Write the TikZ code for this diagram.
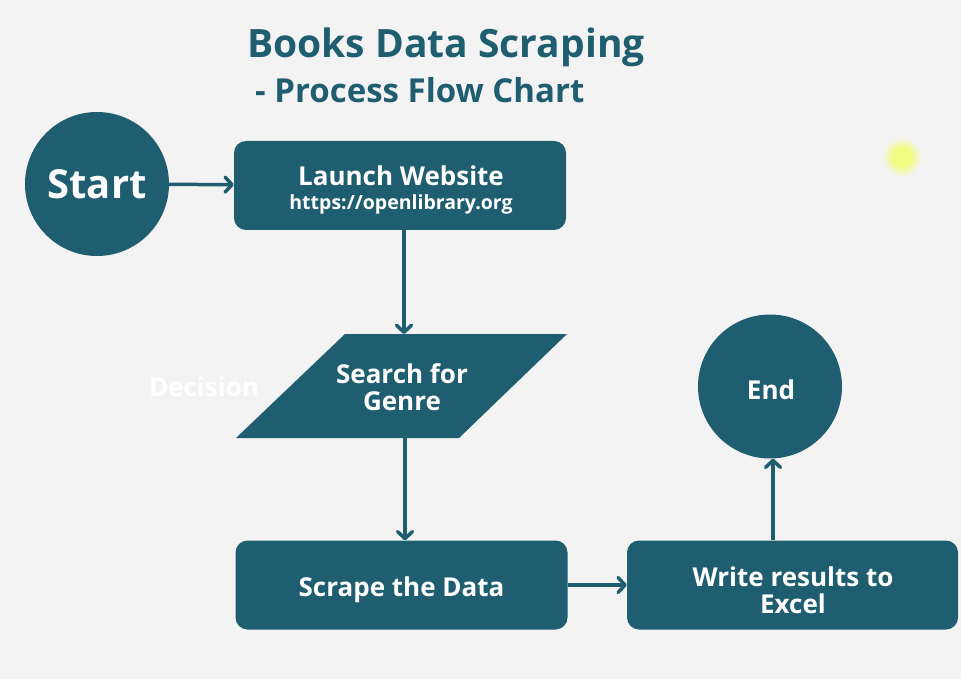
\documentclass[tikz,border=0pt]{standalone}
\usepackage{fontspec}
\setmainfont{Open Sans}
\usetikzlibrary{arrows.meta}
\definecolor{flowteal}{RGB}{31,93,112}
\definecolor{pagebg}{RGB}{243,243,243}
\definecolor{spotyellow}{RGB}{242,252,130}
\pgfdeclareradialshading{pointerspot}{\pgfpoint{0bp}{0bp}}{color(0bp)=(spotyellow); color(9bp)=(spotyellow); color(20bp)=(pagebg); color(25bp)=(pagebg)}
\begin{document}
\begin{tikzpicture}[x=1pt,y=-1pt]
	\tikzstyle{every node}+=[inner sep=0pt,font=\bfseries]
	\tikzstyle{flowbox}=[fill=flowteal,rounded corners=12pt,minimum width=332pt,minimum height=89pt]
	\tikzstyle{flowtext}=[text=white,align=center,font=\fontsize{26}{27}\selectfont\bfseries]
	\tikzstyle{flowcircle}=[circle,fill=flowteal,text=white,minimum size=144pt]
	\tikzstyle{flowarrow}=[draw=flowteal,line width=3.5pt,-{Straight Barb[length=7pt,width=15pt,line width=3.5pt,round]}]
	% background and page size
	\fill [pagebg] (0,0) rectangle (961,679);
	\shade [shading=pointerspot] (902,157) circle (25);
	% title
	\node [text=flowteal,anchor=base west,font=\fontsize{39}{44}\selectfont\bfseries] (title) at (247,58) {Books Data Scraping};
	\node [text=flowteal,anchor=base west,font=\fontsize{33}{38}\selectfont\bfseries] (subtitle) at (255,103) {- Process Flow Chart};
	% shapes
	\node [flowcircle,font=\fontsize{40}{46}\selectfont\bfseries] (start) at (97,184) {Start};
	\node [flowbox] (launch) at (400,185.5) {};
	\node [flowtext] (launchtext) at (401,190) {Launch Website\\[-3pt]{\fontsize{19.5}{22}\selectfont https://openlibrary.org}};
	\fill [flowteal] (345,334) -- (567,334) -- (459,438) -- (236,438) -- cycle;
	\coordinate (searchtop) at (404,334);
	\coordinate (searchbottom) at (405,438);
	\node [flowtext] (search) at (402,387) {Search for\\Genre};
	\node [flowtext] (decision) at (204,387) {Decision};
	\node [flowbox] (scrape) at (401.5,585) {};
	\node [flowtext] (scrapetext) at (401.5,590) {Scrape the Data};
	\node [flowbox,minimum width=331pt] (write) at (792.5,585) {};
	\node [flowtext] (writetext) at (793,590) {Write results to\\Excel};
	\node [flowcircle,font=\fontsize{26}{27}\selectfont\bfseries] (end) at (770,386.5) {};
	\node [flowtext] (endtext) at (771,389.5) {End};
	% connectors
	\draw [flowarrow] (start) -- (launch);
	\draw [flowarrow] (launch.south -| searchtop) -- (searchtop);
	\draw [flowarrow] (searchbottom) -- (searchbottom |- scrape.north);
	\draw [flowarrow] (scrape) -- (write);
	\draw [flowarrow] (write.north -| 773,0) -- (end.south -| 773,0);
\end{tikzpicture}
\end{document}
